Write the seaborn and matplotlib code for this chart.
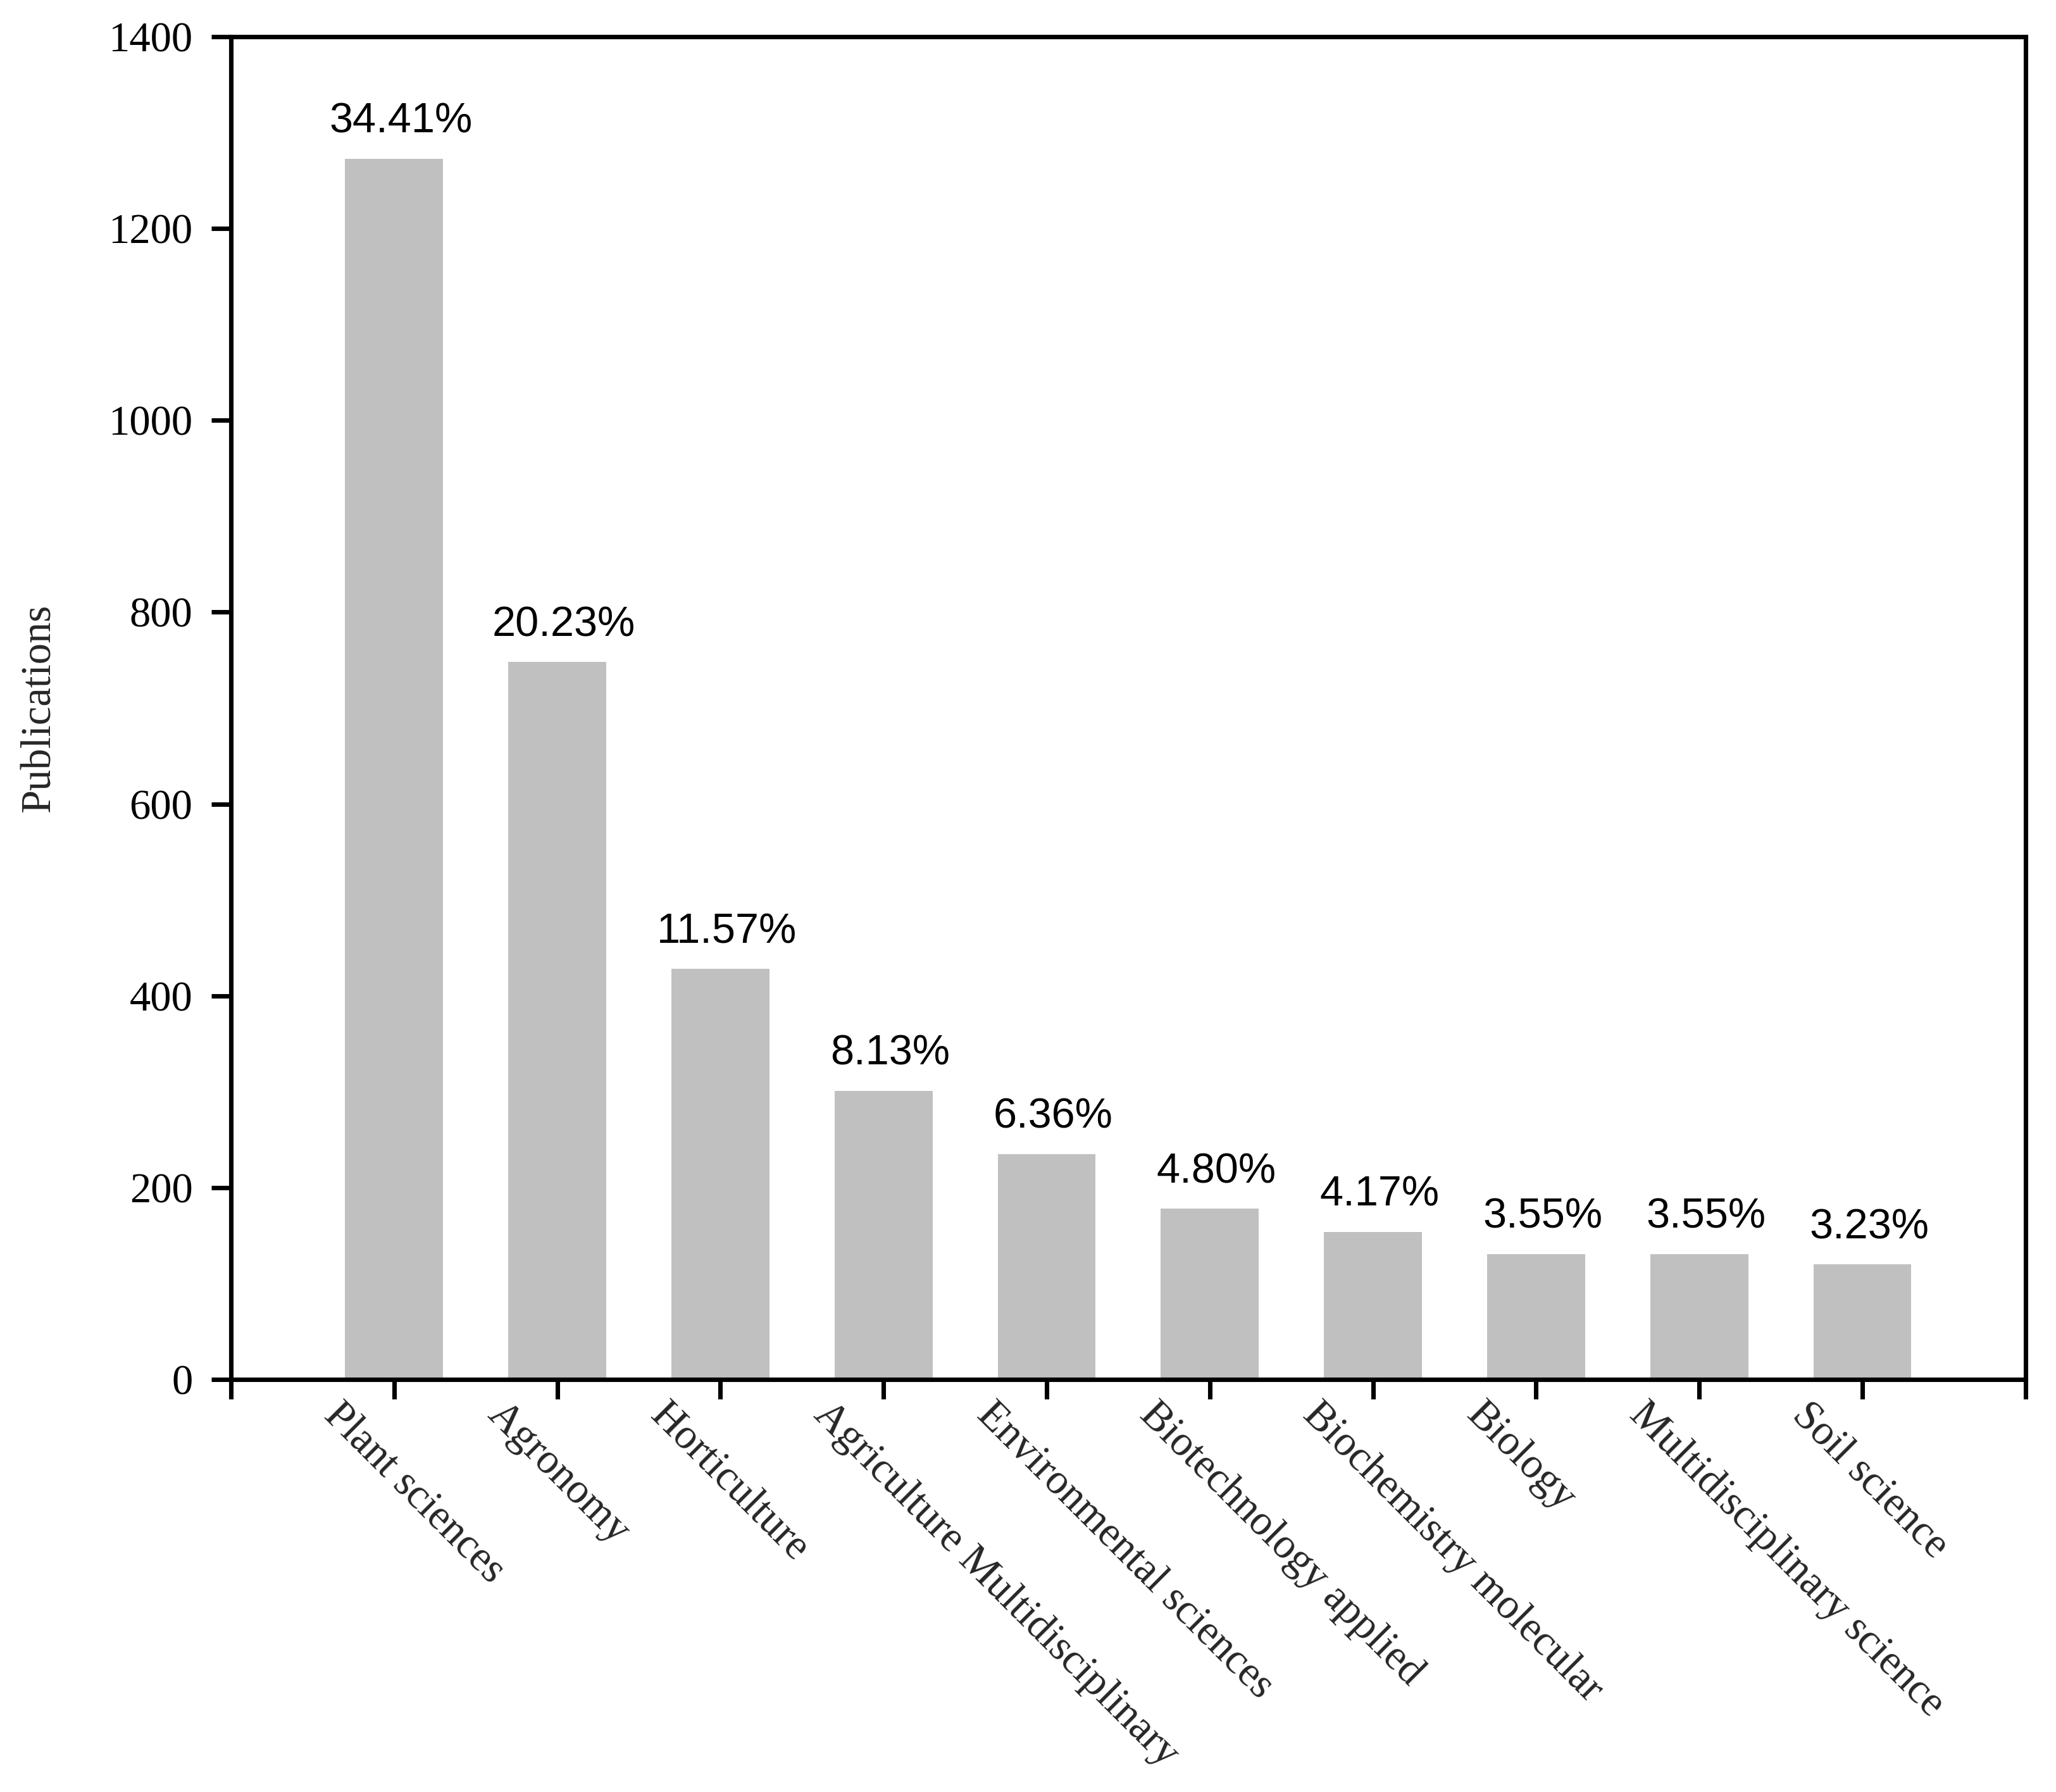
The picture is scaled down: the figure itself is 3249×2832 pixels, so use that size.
import matplotlib
matplotlib.use("Agg")
import matplotlib.pyplot as plt
import matplotlib.transforms as mtransforms
import seaborn as sns
import pandas as pd

categories = ["Plant sciences", "Agronomy", "Horticulture", "Agriculture Multidisciplinary",
              "Environmental sciences", "Biotechnology applied", "Biochemistry molecular",
              "Biology", "Multidisciplinary science", "Soil science"]
publications = [1273, 748, 428, 301, 235, 178, 154, 131, 131, 120]
percent_labels = ["34.41%", "20.23%", "11.57%", "8.13%", "6.36%", "4.80%", "4.17%",
                  "3.55%", "3.55%", "3.23%"]
y_ticks = [0, 200, 400, 600, 800, 1000, 1200, 1400]

sns.set_style("white")
plt.rcParams["font.family"] = ["Liberation Serif", "DejaVu Serif"]

df = pd.DataFrame({"category": categories, "publications": publications})

fig = plt.figure(figsize=(10.83, 9.44), dpi=300)
ax = fig.add_axes([0.1123, 0.2302, 0.8729, 0.7493])

sns.barplot(data=df, x="category", y="publications", color="#c0c0c0",
            saturation=1, width=0.6, ax=ax, linewidth=0)

ax.set_xlim(-1, 10)
ax.set_ylim(0, 1400)
ax.set_yticks(y_ticks)
ax.set_yticklabels([str(v) for v in y_ticks], fontsize=16)
ax.set_xticks(range(-1, 11))
ax.set_xticklabels([""] * 12)

offset = mtransforms.ScaledTranslation(-27 / 72, -14 / 72, fig.dpi_scale_trans)
trans = ax.get_xaxis_transform() + offset
for i, cat in enumerate(categories):
    ax.text(i, 0, cat, transform=trans, fontsize=16, rotation=-45,
            rotation_mode="anchor", ha="left", va="baseline", clip_on=False)

ax.set_xlabel("")
ax.set_ylabel("Publications", fontsize=16, labelpad=19)

for side in ["left", "right", "top", "bottom"]:
    ax.spines[side].set_visible(True)
    ax.spines[side].set_linewidth(1.7)
    ax.spines[side].set_color("black")

ax.tick_params(axis="both", which="major", direction="out", length=7.5, width=1.7,
               color="black", labelcolor="black")
ax.tick_params(axis="y", pad=7)
ax.tick_params(axis="x", pad=0)
ax.tick_params(top=False, right=False, left=True, bottom=True)

texts = ax.bar_label(ax.containers[0], labels=percent_labels, padding=6.5, fontsize=16,
                     fontfamily="Liberation Sans", color="black")
for t in texts:
    t.xyann = (2.5, 6.5)

fig.savefig("out.png", dpi=300, facecolor="white")
